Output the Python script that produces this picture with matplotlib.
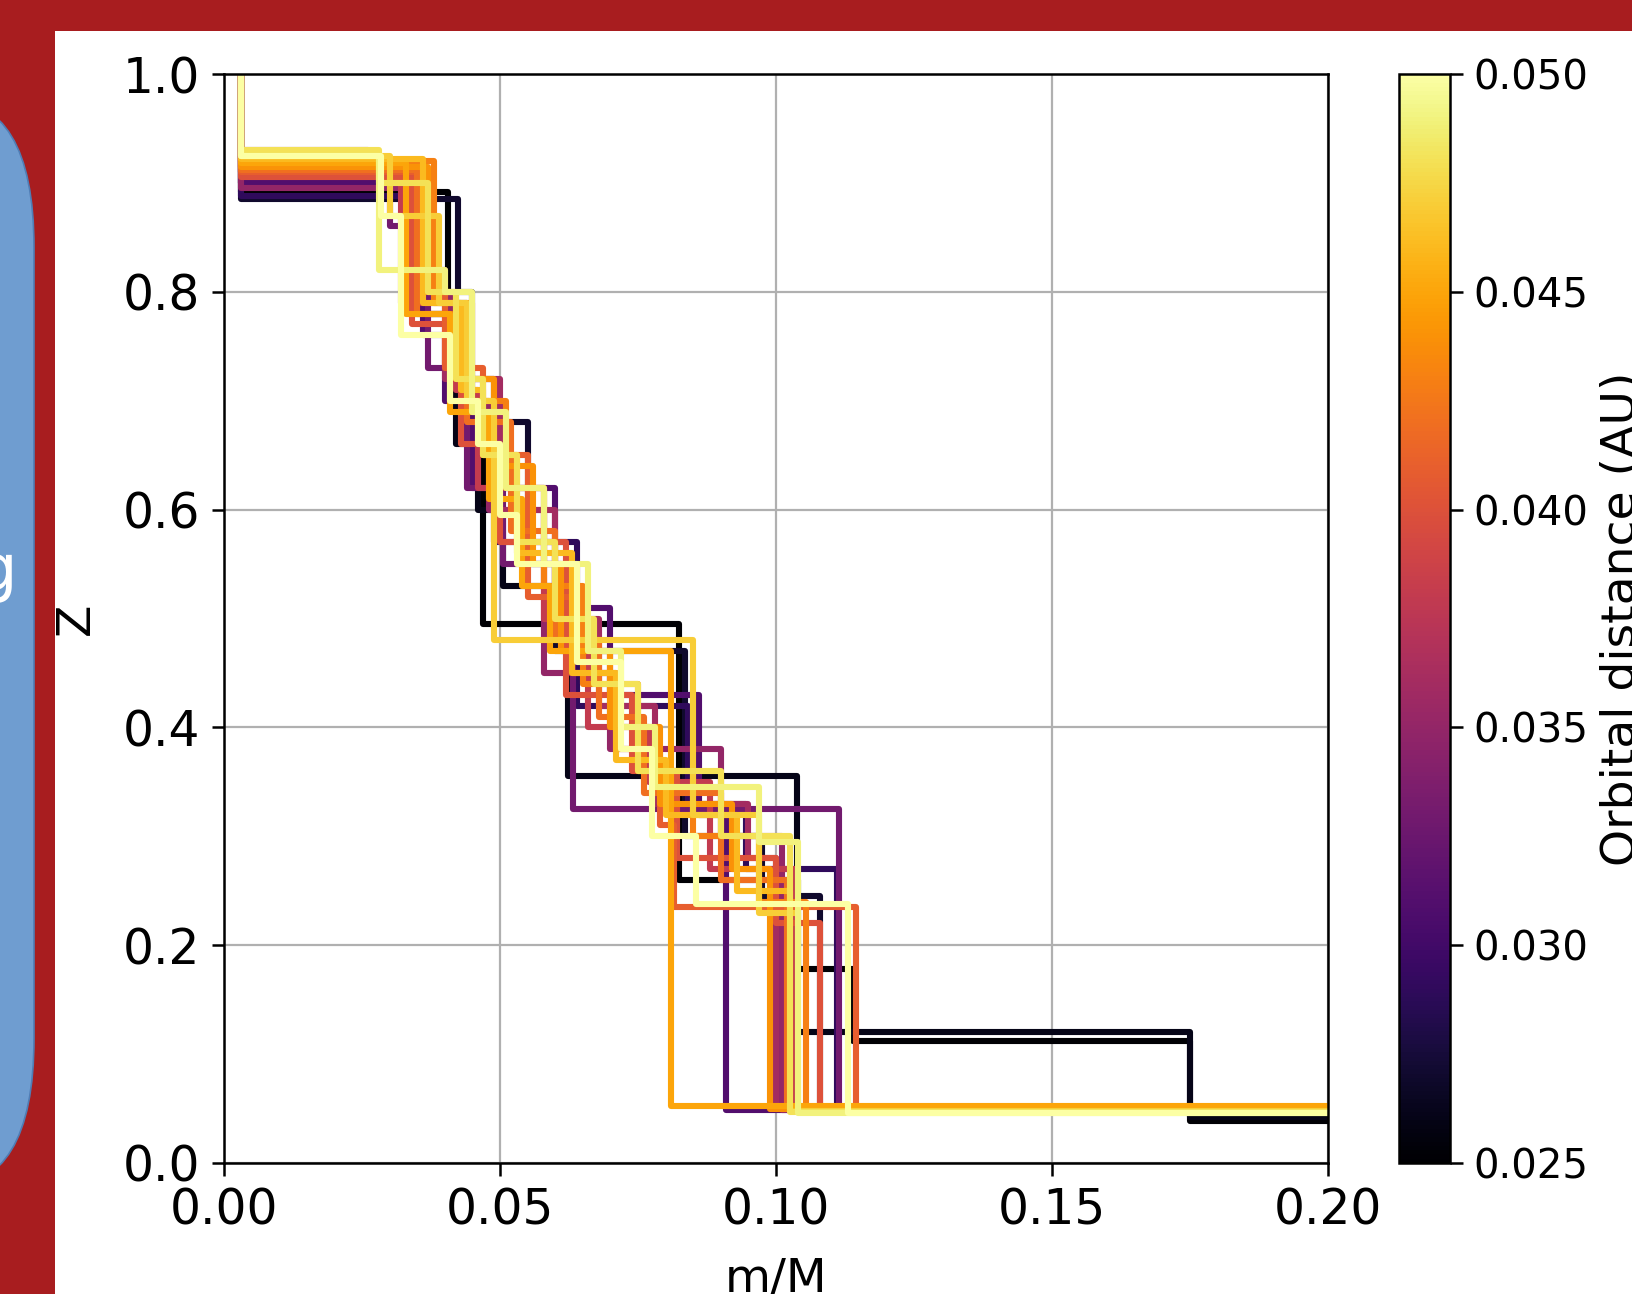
import matplotlib
matplotlib.use("Agg")
import matplotlib.pyplot as plt
from matplotlib import colors
from matplotlib.patches import Rectangle, FancyBboxPatch
from matplotlib.transforms import IdentityTransform

# orbital distance (AU) of each run, colour of each curve
orbit_au = [0.025, 0.026, 0.027, 0.029, 0.031, 0.033, 0.035, 0.036, 0.038, 0.040,
            0.041, 0.042, 0.043, 0.044, 0.045, 0.046, 0.047, 0.048, 0.049, 0.050]

# m/M where each curve steps down (after the start at m/M = 0.003)
step_mass = [
    [0.0405, 0.044, 0.047, 0.0825, 0.104, 0.114, 0.175],
    [0.036, 0.042, 0.046, 0.0505, 0.0623, 0.1038, 0.175],
    [0.0424, 0.045, 0.055, 0.060, 0.0835, 0.0975, 0.108],
    [0.034, 0.041, 0.049, 0.064, 0.084, 0.0945, 0.111],
    [0.036, 0.040, 0.045, 0.060, 0.070, 0.086, 0.091],
    [0.030, 0.037, 0.044, 0.0505, 0.0632, 0.1115],
    [0.033, 0.041, 0.048, 0.058, 0.070, 0.090, 0.101],
    [0.026, 0.034, 0.040, 0.050, 0.060, 0.068, 0.078, 0.095, 0.100],
    [0.032, 0.042, 0.046, 0.058, 0.066, 0.077, 0.088, 0.1035],
    [0.034, 0.043, 0.050, 0.062, 0.074, 0.082, 0.100, 0.108],
    [0.036, 0.040, 0.047, 0.055, 0.063, 0.071, 0.079, 0.0815, 0.1145],
    [0.035, 0.044, 0.052, 0.060, 0.068, 0.076, 0.090, 0.102],
    [0.038, 0.045, 0.051, 0.058, 0.065, 0.075, 0.085, 0.097, 0.1055],
    [0.037, 0.042, 0.049, 0.056, 0.061, 0.070, 0.079, 0.092, 0.099],
    [0.033, 0.041, 0.048, 0.054, 0.059, 0.081],
    [0.036, 0.043, 0.047, 0.053, 0.063, 0.071, 0.080, 0.093, 0.1025],
    [0.030, 0.039, 0.044, 0.049, 0.085, 0.097, 0.104],
    [0.028, 0.037, 0.042, 0.047, 0.053, 0.060, 0.067, 0.075, 0.090, 0.1025],
    [0.028, 0.040, 0.045, 0.051, 0.058, 0.066, 0.072, 0.078, 0.097, 0.104],
    [0.0285, 0.032, 0.041, 0.046, 0.050, 0.053, 0.064, 0.072, 0.0775, 0.0855, 0.113],
]

# Z level on each step (first value is the plateau after Z = 1.0)
step_z = [
    [0.892, 0.79, 0.70, 0.495, 0.26, 0.178, 0.112, 0.039],
    [0.90, 0.78, 0.66, 0.60, 0.53, 0.355, 0.12, 0.042],
    [0.885, 0.80, 0.68, 0.55, 0.47, 0.30, 0.245, 0.05],
    [0.888, 0.78, 0.72, 0.57, 0.42, 0.33, 0.27, 0.05],
    [0.90, 0.76, 0.70, 0.62, 0.51, 0.43, 0.32, 0.049],
    [0.91, 0.86, 0.73, 0.62, 0.55, 0.325, 0.048],
    [0.895, 0.80, 0.70, 0.60, 0.45, 0.38, 0.30, 0.049],
    [0.93, 0.92, 0.82, 0.72, 0.60, 0.50, 0.42, 0.33, 0.28, 0.05],
    [0.915, 0.79, 0.71, 0.62, 0.50, 0.40, 0.35, 0.27, 0.05],
    [0.905, 0.77, 0.66, 0.57, 0.43, 0.36, 0.28, 0.22, 0.05],
    [0.91, 0.80, 0.73, 0.65, 0.52, 0.45, 0.38, 0.31, 0.235, 0.05],
    [0.912, 0.78, 0.68, 0.58, 0.48, 0.41, 0.34, 0.26, 0.05],
    [0.92, 0.79, 0.70, 0.62, 0.53, 0.44, 0.36, 0.30, 0.24, 0.05],
    [0.915, 0.80, 0.72, 0.64, 0.55, 0.47, 0.40, 0.33, 0.27, 0.05],
    [0.918, 0.78, 0.69, 0.61, 0.53, 0.47, 0.052],
    [0.922, 0.79, 0.71, 0.65, 0.56, 0.45, 0.37, 0.32, 0.25, 0.048],
    [0.925, 0.87, 0.79, 0.70, 0.48, 0.32, 0.23, 0.048],
    [0.93, 0.90, 0.80, 0.72, 0.65, 0.57, 0.50, 0.44, 0.36, 0.30, 0.047],
    [0.925, 0.82, 0.80, 0.69, 0.62, 0.55, 0.47, 0.40, 0.345, 0.295, 0.046],
    [0.925, 0.87, 0.76, 0.70, 0.66, 0.595, 0.55, 0.46, 0.38, 0.30, 0.238, 0.046],
]

W, H = 1633, 1294
fig = plt.figure(figsize=(W / 100, H / 100), dpi=100)
fig.patch.set_facecolor("#a81d1f")

# slide background: white panel and the cut-off blue box on the left
fig.patches.append(Rectangle((55 / W, 0), 1, 1 - 31 / H, transform=fig.transFigure,
                             facecolor="white", edgecolor="none", zorder=-2))
fig.patches.append(FancyBboxPatch((-150, H - 1187), 184, 1088,
                                  boxstyle="round,pad=0,rounding_size=90",
                                  mutation_aspect=1.65, transform=IdentityTransform(),
                                  facecolor="#6f9dd0", edgecolor="#4f7db5", lw=1.2, zorder=-2))
fig.text(17 / W, 1 - 590 / H, "g", color="white", fontsize=46, ha="right", va="baseline")

ax = fig.add_axes([224 / W, 1 - 1163 / H, 1104 / W, 1089 / H])
cax = fig.add_axes([1399 / W, 1 - 1163 / H, 51 / W, 1089 / H])

cmap = plt.get_cmap("inferno")
norm = colors.Normalize(vmin=0.025, vmax=0.05)

for i in range(len(orbit_au)):
    x = [0.003, 0.003] + step_mass[i] + [0.2]
    z = [1.0] + step_z[i] + [step_z[i][-1]]
    ax.step(x, z, where="post", color=cmap(norm(orbit_au[i])), lw=4.4)

ax.set_xlim(0, 0.2)
ax.set_ylim(0, 1.0)
ax.set_xticks([0.0, 0.05, 0.10, 0.15, 0.20])
ax.set_yticks([0.0, 0.2, 0.4, 0.6, 0.8, 1.0])
ax.xaxis.set_major_formatter(plt.FormatStrFormatter("%.2f"))
ax.yaxis.set_major_formatter(plt.FormatStrFormatter("%.1f"))
ax.grid(color="#b0b0b0", lw=1.6)
ax.set_axisbelow(True)
for s in ax.spines.values():
    s.set_linewidth(1.8)
ax.tick_params(labelsize=35, length=9, width=1.8, pad=8)
ax.set_xlabel("m/M", fontsize=34)
ax.set_ylabel("Z", fontsize=34)
ax.xaxis.set_label_coords(0.5, -0.086)
ax.yaxis.set_label_coords(-0.113, 0.5)

sm = plt.cm.ScalarMappable(norm=norm, cmap=cmap)
cbar = fig.colorbar(sm, cax=cax, ticks=[0.025, 0.03, 0.035, 0.04, 0.045, 0.05], format="%.3f")
cbar.outline.set_linewidth(1.8)
cax.tick_params(labelsize=29, length=9, width=1.8, pad=8)
fig.text(1600 / W, 0.522, "Orbital distance (AU)", fontsize=34, rotation=90,
         ha="left", va="center")

fig.savefig("out.png", dpi=100, facecolor=fig.get_facecolor())
